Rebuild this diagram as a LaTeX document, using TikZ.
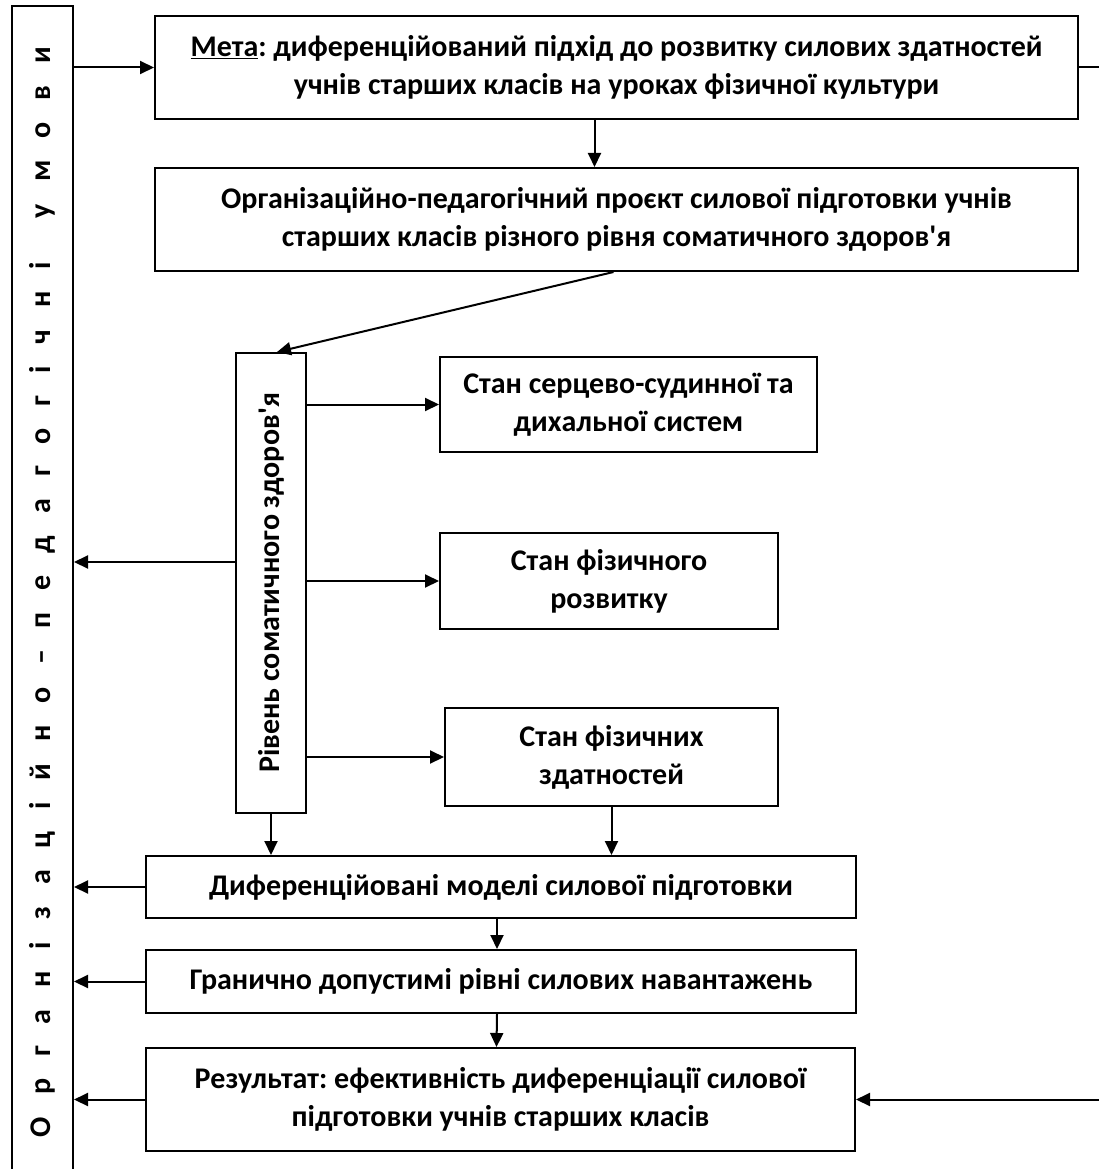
\documentclass[tikz,border=0pt]{standalone}
\usepackage{fontspec}
\setmainfont{Carlito}
\usetikzlibrary{arrows.meta}
\frenchspacing
\tikzset{
  box/.style={draw, line width=2pt, align=center, inner sep=2pt,
              font=\bfseries\fontsize{30}{38}\selectfont},
  arr/.style={line width=2pt, -{Triangle[length=14pt,width=13pt]}},
}
\begin{document}
\begin{tikzpicture}[x=1pt,y=-1pt]
  \clip (0,0) rectangle (1099,1169);
  \node[box, rotate=90, minimum width=1172, minimum height=61] (cond) at (42.5,592)
    {\makebox[1090pt][s]{О р г а н і з а ц і й н о – п е д а г о г і ч н і\ \ у м о в и}};
  \node[box, minimum width=923, minimum height=103] (goal) at (616.5,67.5)
    {\underline{Мета}: диференційований підхід до розвитку силових здатностей\\
     учнів старших класів на уроках фізичної культури};
  \node[box, minimum width=923, minimum height=103] (proj) at (616.5,219.5)
    {Організаційно-педагогічний проєкт силової підготовки учнів\\
     старших класів різного рівня соматичного здоров\textquotesingle я};
  \node[box, rotate=90, minimum width=460, minimum height=70] (level) at (271,583)
    {Рівень соматичного здоров\textquotesingle я};
  \node[box, minimum width=377, minimum height=95] (heart) at (628.5,404.5)
    {Стан серцево-судинної та\\ дихальної систем};
  \node[box, minimum width=338, minimum height=96] (devel) at (609,581)
    {Стан фізичного\\ розвитку};
  \node[box, minimum width=333, minimum height=98] (abil) at (611.5,757)
    {Стан фізичних\\ здатностей};
  \node[box, minimum width=710, minimum height=62] (models) at (501,887)
    {Диференційовані моделі силової підготовки};
  \node[box, minimum width=710, minimum height=63] (limits) at (501,981.5)
    {Гранично допустимі рівні силових навантажень};
  \node[box, minimum width=709, minimum height=103] (result) at (500.5,1099.5)
    {Результат: ефективність диференціації силової\\ підготовки учнів старших класів};

  \coordinate (mid) at (0,562);
  \coordinate (rtop) at (1110,66);
  \coordinate (rbot) at (1110,1099.5);

  \draw[arr] (cond.south |- goal.west) -- (goal.west);
  \draw[line width=2pt] (goal.east) -- (goal.east -| rtop);
  \draw[arr] ([xshift=-22pt]goal.south) -- ([xshift=-22pt]proj.north);
  \draw[arr] ([xshift=-3pt]proj.south) -- ([xshift=6pt]level.east);
  \draw[arr] (level.south |- heart.west) -- (heart.west);
  \draw[arr] (level.south |- devel.west) -- (devel.west);
  \draw[arr] (level.south |- abil.west) -- (abil.west);
  \draw[arr] (level.north |- mid) -- (cond.south |- mid);
  \draw[arr] (level.west) -- (level.west |- models.north);
  \draw[arr] (abil.south) -- (abil.south |- models.north);
  \draw[arr] ([xshift=-4pt]models.south) -- ([xshift=-4pt]limits.north);
  \draw[arr] ([xshift=-4pt]limits.south) -- ([xshift=-4pt]result.north);
  \draw[arr] (models.west) -- (models.west -| cond.south);
  \draw[arr] (limits.west) -- (limits.west -| cond.south);
  \draw[arr] (result.west) -- (result.west -| cond.south);
  \draw[arr] (rbot) -- (result.east);
\end{tikzpicture}
\end{document}
